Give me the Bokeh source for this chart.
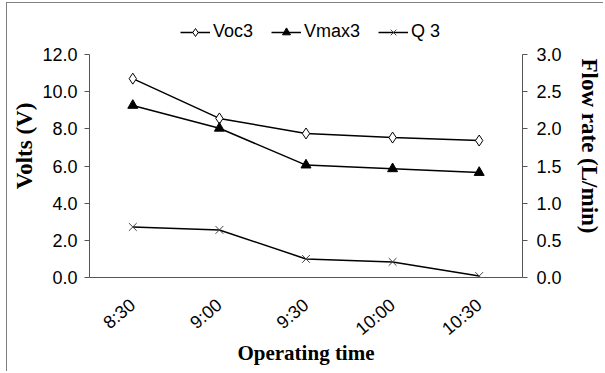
from bokeh.plotting import figure
from bokeh.models import Range1d, LinearAxis, Legend, LegendItem, FixedTicker, NumeralTickFormatter
from bokeh.embed import file_html
from bokeh.resources import INLINE

times = ["8:30", "9:00", "9:30", "10:00", "10:30"]
voc3 = [10.7, 8.56, 7.75, 7.53, 7.37]
vmax3 = [9.26, 8.03, 6.05, 5.85, 5.65]
q3 = [0.68, 0.64, 0.25, 0.21, 0.02]

left_ticks = [0, 2, 4, 6, 8, 10, 12]
right_ticks = [0, 0.5, 1.0, 1.5, 2.0, 2.5, 3.0]
volts_max = 12
flow_max = 3

# frame extends above the axes' top so the legend can sit inside it
frame_h, axis_h = 263, 223
p = figure(width=597, height=369, x_range=times,
           y_range=Range1d(0, volts_max * frame_h / axis_h),
           output_backend="svg", toolbar_location=None,
           min_border_left=82, min_border_right=76, min_border_top=11, min_border_bottom=95)
p.styles = {"margin-left": "6px", "margin-top": "2px",
            "border-top": "1px solid #808080", "border-left": "1px solid #808080"}
p.extra_y_ranges = {"flow": Range1d(0, flow_max * frame_h / axis_h)}
p.grid.visible = False
p.outline_line_color = None
p.background_fill_color = "white"

axis_color = "#555555"
tick_font = "Liberation Sans"

ya = p.yaxis[0]
ya.ticker = FixedTicker(ticks=left_ticks)
ya.formatter = NumeralTickFormatter(format="0.0")
ya.axis_label = "Volts (V)"
ya.bounds = (0, volts_max)

ra = LinearAxis(y_range_name="flow", ticker=FixedTicker(ticks=right_ticks),
                formatter=NumeralTickFormatter(format="0.0"), axis_label="Flow rate (L/min)",
                bounds=(0, flow_max))
p.add_layout(ra, "right")

xa = p.xaxis[0]
xa.axis_label = "Operating time"
xa.major_label_orientation = 0.70
xa.major_tick_out = 0
xa.major_tick_in = 0

for ax in [ya, ra, xa]:
    ax.axis_line_color = axis_color
    ax.major_tick_line_color = axis_color
    ax.minor_tick_line_color = None
    ax.major_label_text_font = tick_font
    ax.major_label_text_font_size = "18px"
    ax.major_label_text_color = "black"
    ax.axis_label_text_font = "Liberation Serif"
    ax.axis_label_text_font_style = "bold"
    ax.axis_label_text_font_size = "23px"
    ax.axis_label_text_color = "black"
xa.axis_label_text_font_size = "21px"
for ax in [ya, ra]:
    ax.major_tick_out = 5
    ax.major_tick_in = 0
ya.major_label_standoff = 7
ra.major_label_standoff = 9
ya.axis_label_standoff = 2
ra.axis_label_standoff = 12
xa.major_label_standoff = 25
xa.axis_label_standoff = -9

l1 = p.line(times, voc3, line_color="black", line_width=1.5)
s1 = p.scatter(times, voc3, marker="diamond", size=11, fill_color="white", line_color="black", line_width=1)
l2 = p.line(times, vmax3, line_color="black", line_width=1.5)
s2 = p.scatter(times, vmax3, marker="triangle", size=10, fill_color="black", line_color="black")
l3 = p.line(times, q3, line_color="black", line_width=1.5, y_range_name="flow")
s3 = p.scatter(times, q3, marker="x", size=11, line_color="#444444", line_width=1, y_range_name="flow")

legend = Legend(items=[
    LegendItem(label="Voc3", renderers=[l1, s1]),
    LegendItem(label="Vmax3", renderers=[l2, s2]),
    LegendItem(label="Q 3", renderers=[l3, s3]),
], orientation="horizontal", location=(89, 233))
legend.border_line_alpha = 0
legend.background_fill_alpha = 0
legend.label_text_font = tick_font
legend.label_text_font_size = "18px"
legend.label_text_color = "black"
legend.glyph_width = 30
legend.glyph_height = 20
legend.spacing = 18
legend.label_standoff = 3
legend.padding = 2
legend.margin = 0
p.add_layout(legend)

open("out.html", "w").write(file_html(p, INLINE))
